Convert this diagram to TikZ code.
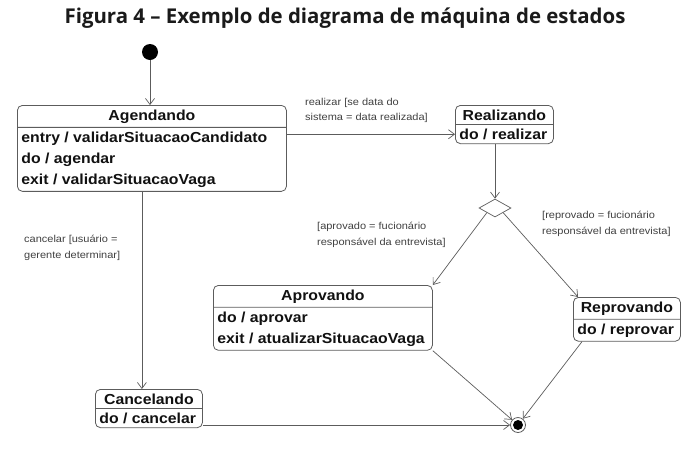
\documentclass[tikz,border=0pt]{standalone}
\usepackage{fontspec}
\setmainfont{Liberation Sans}
\newfontfamily\titlefont{Open Sans}
\newfontfamily\statefont[FakeStretch=1.09]{Liberation Sans}
\newfontfamily\guardfont[FakeStretch=1.1]{Liberation Sans}
\usepackage{tikz}
\usetikzlibrary{arrows.meta, calc, positioning, shapes.geometric, shapes.multipart}
\usepackage{xcolor}
\definecolor{mLine}{HTML}{5C5C5C}
\definecolor{mInk}{HTML}{111111}
\definecolor{mGuard}{HTML}{404040}
\definecolor{mTitle}{HTML}{1A1A1A}

\begin{document}
\begin{tikzpicture}[x=1pt, y=-1pt, >={Straight Barb[length=6pt, width=9pt]},
  estado/.style={rectangle split, rectangle split parts=2, rectangle split part align={center,left},
    draw=mLine, line width=0.8pt, rounded corners=5pt, align=left, inner xsep=4pt, inner ysep=3.8pt,
    text=mInk, font=\statefont\bfseries\fontsize{14.5}{21}\selectfont, anchor=north west},
  guarda/.style={font=\guardfont\fontsize{10}{15.5}\selectfont, text=mGuard, align=left,
    anchor=north west, inner sep=0pt},
  trans/.style={->, draw=mLine, line width=0.7pt}]
  \useasboundingbox (0,0) rectangle (690,448);
  \node[font=\titlefont\bfseries\fontsize{20.4}{24}\selectfont, text=mTitle] (titulo) at (345,18)
    {Figura 4 – Exemplo de diagrama de máquina de estados};
  % states
  \node[estado, minimum width=269pt] (agend) at (17,105)
    {Agendando \nodepart{two} entry / validarSituacaoCandidato\\ do / agendar\\ exit / validarSituacaoVaga};
  \node[estado, minimum width=98pt] (realiz) at (455,105) {Realizando \nodepart{two} do / realizar};
  \node[estado, minimum width=219pt] (aprov) at (213,285)
    {Aprovando \nodepart{two} do / aprovar\\ exit / atualizarSituacaoVaga};
  \node[estado, minimum width=107pt] (reprov) at (573,297) {Reprovando \nodepart{two} do / reprovar};
  \node[estado, minimum width=107pt] (cancel) at (95,389) {Cancelando \nodepart{two} do / cancelar};
  % pseudo states
  \node[circle, fill=black, minimum size=16pt, inner sep=0pt] (inicio) at (150,52) {};
  \node[diamond, draw=mLine, line width=0.7pt, fill=white, minimum width=32pt, minimum height=18pt,
    inner sep=0pt] (decisao) at (495,208) {};
  \node[circle, draw=mLine, line width=0.8pt, minimum size=15pt, inner sep=0pt,
    path picture={\fill[black] (path picture bounding box.center) circle (5pt);}] (fim) at (518,425) {};
  % transitions
  \coordinate (r2) at ($(realiz.text split)!.5!(realiz.south)$);
  \draw[trans] (inicio.south) -- (inicio.south |- agend.north);
  \draw[trans] (agend.east |- r2) -- (realiz.west |- r2);
  \draw[trans] (realiz.south -| decisao) -- (decisao.north);
  \draw[trans] (decisao.south west) -- (aprov.north east);
  \draw[trans] (decisao.south east) -- ([xshift=5pt]reprov.north west);
  \draw[trans] ([xshift=-7pt]cancel.north |- agend.south) -- ([xshift=-7pt]cancel.north);
  \draw[trans] (cancel.east |- fim) -- (fim.west);
  \draw[trans] (aprov.south east) -- (fim);
  \draw[trans] ([xshift=9pt]reprov.south west) -- (fim);
  % guards
  \node[guarda] (gRealizar) at (305,98) {realizar [se data do\\sistema = data realizada]};
  \node[guarda] (gAprov) at (317,222) {[aprovado = fucionário\\responsável da entrevista]};
  \node[guarda] (gReprov) at (542,211) {[reprovado = fucionário\\responsável da entrevista]};
  \node[guarda] (gCancelar) at (24,235) {cancelar [usuário =\\gerente determinar]};
\end{tikzpicture}
\end{document}
